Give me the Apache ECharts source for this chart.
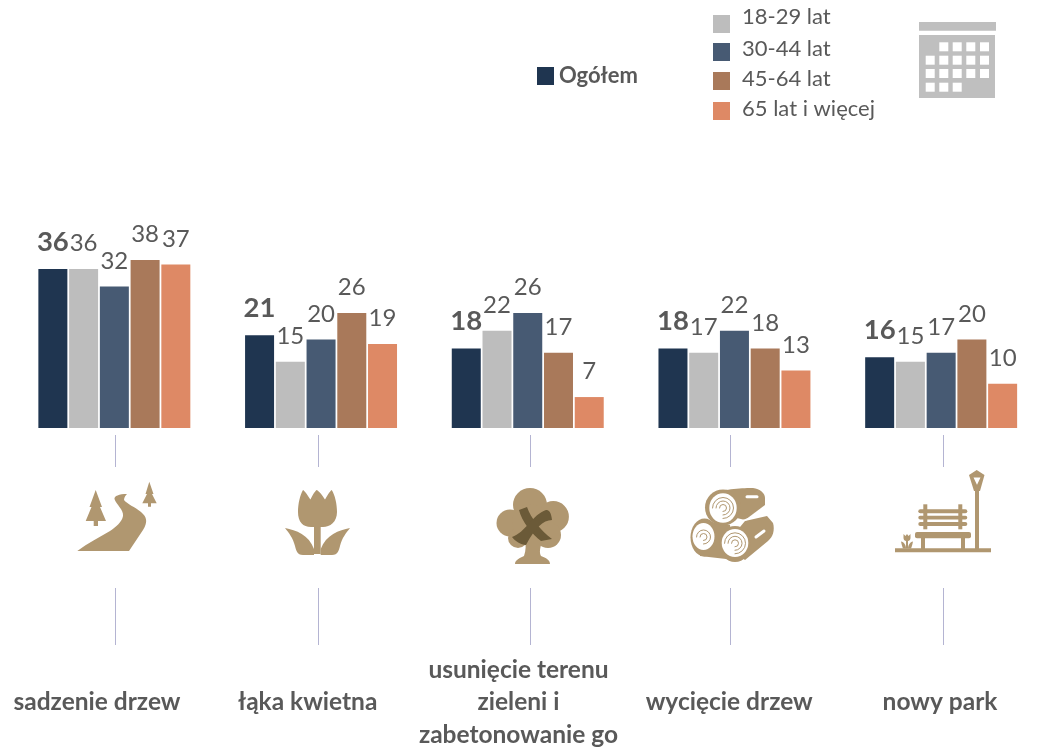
<!DOCTYPE html>
<html><head><meta charset="utf-8">
<script src="https://cdn.jsdelivr.net/npm/echarts@6/dist/echarts.min.js"></script>
<style>html,body{margin:0;padding:0;background:#fff}#c{width:1043px;height:747px}</style>
</head><body><div id="c"></div>
<script>
const categories = ['sadzenie drzew','łąka kwietna','usunięcie terenu\nzieleni i\nzabetonowanie go','wycięcie drzew','nowy park'];
const ogolem   = [36,21,18,18,16];
const age18_29 = [36,15,22,17,15];
const age30_44 = [32,20,26,22,17];
const age45_64 = [38,26,17,18,20];
const age65    = [37,19,7,13,10];
const seriesNames = ['Ogółem','18-29 lat','30-44 lat','45-64 lat','65 lat i więcej'];
const seriesData = [ogolem,age18_29,age30_44,age45_64,age65];
const colors = ['#1F3550','#BDBDBD','#475A73','#A9795A','#DE8965'];
const FONT='Lato', TXT='#595959', GOLD='#B09770';

const series = seriesNames.map((n,i)=>({
  name:n,type:'bar',data:seriesData[i],barWidth:29,barGap:'6%',
  itemStyle:{color:colors[i]},
  label:{show:true,position:'top',distance:14,color:TXT,fontFamily:FONT,
    fontSize:i===0?27.5:24,fontWeight:i===0?'bold':'normal',lineHeight:i===0?26:23}
}));

function legend(i,left,top,up,pad){
  const tok={color:TXT,fontFamily:FONT,fontSize:22,fontWeight:i===0?'bold':'normal',padding:[0,0,up,pad]};
  return {data:[seriesNames[i]],left,top,padding:0,icon:'rect',itemWidth:17,itemHeight:18,
    selectedMode:false,formatter:'{a|{name}}',textStyle:{rich:{a:tok}}};
}

const g=[];
const path=(d,fill)=>g.push({type:'path',shape:{pathData:d},style:{fill:fill}});
const circ=(cx,cy,r,fill)=>g.push({type:'circle',shape:{cx,cy,r},style:{fill}});
const ell=(cx,cy,rx,ry,fill)=>path(`M${cx-rx} ${cy} A${rx} ${ry} 0 1 1 ${cx+rx} ${cy} A${rx} ${ry} 0 1 1 ${cx-rx} ${cy} Z`,fill);
const rect=(x,y,w,h,fill,r)=>g.push({type:'rect',shape:{x,y,width:w,height:h,r:r||0},style:{fill}});
const stroke=(d,col,w)=>g.push({type:'path',shape:{pathData:d},style:{fill:'none',stroke:col,lineWidth:w,lineCap:'round'}});

// connector lines
[115.5,318.5,530.5,730.5,943.5].forEach(x=>{
  [[435,467],[588,645]].forEach(([a,b])=>g.push({type:'line',shape:{x1:x,y1:a,x2:x,y2:b},style:{stroke:'#B4B4D2',lineWidth:1}}));
});
// calendar
rect(919,22,77,8.7,'#BFBFBF');
rect(919,35,76,63,'#BFBFBF');
const calX=[925.7,939.3,952.7,966.3,980], calY=[42.3,55.7,69,82.7];
[[1,2,3,4],[0,1,2,3,4],[0,1,2,3,4],[0,1,2]].forEach((row,r)=>row.forEach(c=>rect(calX[c],calY[r],9,9,'#fff')));
// road + trees
path('M95.7 490 L102 507 L100 507 L106 521 L98 521 L98 526 L93.7 526 L93.7 521 L85.7 521 L91.5 507 L89.5 507 Z',GOLD);
path('M149.3 481.7 L153.5 494 L152 494 L156.7 503.3 L151 503.3 L151 506.7 L148 506.7 L148 503.3 L142.3 503.3 L147 494 L145.5 494 Z',GOLD);
path('M77.3 551 L129 551 L143 530 C148 522 147 517 141 512 C135 507 127 504 124 500 C124 497 126 495 127 494 C119 494 114 496 114.5 499 C116 504 124 510 123 516 C122 522 116 527 110 531 C100 537 88 543 77.3 551 Z',GOLD);
// tulip
path('M303 490 C305 491 308 496 310.5 499.5 C312 496 315 491 316.7 490 C319 491 323 496 325 499.5 C327 496 330 491 331.7 490 C335 495 337 504 337 512 C337 522 330 527 323 527 L311 527 C303 527 298 522 298 512 C298 504 300 495 303 490 Z',GOLD);
rect(314,526,6.7,28,GOLD);
path('M285 528 C296 530 309 535 314 549 L314 555 L303 555 C297 555 296 550 295 546 C293 538 289 533 285 528 Z',GOLD);
path('M350 528 C339 530 326 535 320.7 549 L320.7 555 L332 555 C338 555 339 550 340 546 C342 538 346 533 350 528 Z',GOLD);
// tree with X
circ(530,505,17,GOLD);circ(510,523,13.5,GOLD);circ(553.3,516.7,15.6,GOLD);circ(548,535,13,GOLD);circ(518,538,10,GOLD);circ(530,522,18,GOLD);
path('M525 538 L543 538 C540 548 539 552 541 556 C546 558 550 560 550 564 L515 564 C515 560 520 558 524 556 C526 550 526 545 525 538 Z',GOLD);
path('M519 510 L527 507 C531 518 540 530 552 539 L541 541 C532 534 522 522 519 510 Z','#6B5A38');
path('M546 510 C549 510 551 512 552 520 C543 520 535 528 526 545 C521 545 515 541 512 537 C525 533 533 514 546 510 Z','#6B5A38');
// logs
path('M716 493 C722 489 745 488 753 488 C760 489 765 493 765 498 L765 505 L745 520 L712 512 Z',GOLD);
path('M745 521 L767 516 L773 523 C775 530 773 537 768 541 L745 560 L725 545 Z',GOLD);
path('M700 520 L730 525 L735 560 L700 556 Z',GOLD);
circ(723,507.5,18,GOLD);ell(704.5,537.5,14,19,GOLD);ell(735,544,16,18,GOLD);
ell(723,508,13.7,14.7,'#fff');ell(703.5,536.5,11,13.5,'#fff');ell(735,543,13.3,14,'#fff');
stroke('M742 521 L765 513','#fff',1.6);
stroke('M747 496.7 L757 496.7','#fff',3);
stroke('M756 537 L764 531','#fff',3);
[[723,508,[3.5,7,10.5]],[703.5,537,[3.5,7]],[735,543.3,[3.5,7,10.5]]].forEach(([x,y,rs])=>rs.forEach(r=>
  stroke(`M${x-r} ${y} A${r} ${r} 0 1 1 ${x} ${y+r}`,GOLD,1)));
// bench + lamp
rect(895,548.3,96,4,GOLD);
rect(975,491,4,58,GOLD);
path('M976.7 470 L984.5 475 L980 491 L974 491 L969 475 Z M973.5 477.5 L978.5 488 L975.5 488 L980.5 477.5 Z',GOLD);
rect(915,532,56,6.3,GOLD,2);
rect(921,538,4,11,GOLD);rect(961,538,4,11,GOLD);
rect(918.3,509.3,49,4,GOLD,2);rect(918.3,515.7,49,3.8,GOLD,2);rect(918.3,522,49,4,GOLD,2);
rect(923.3,504.3,4,25,GOLD);rect(958.3,504.3,4,25,GOLD);
path('M903.5 534 L905.5 536 L907 534 L908.5 536 L910.5 534 L910.5 538 C910.5 540 909 541 908 541 L908 548.5 L906 548.5 L906 541 C905 541 903.5 540 903.5 538 Z',GOLD);
path('M901 541.5 C904 542 906 545 906 548.5 L903 548.5 C902 546 901.5 544 901 541.5 Z',GOLD);
path('M913 541.5 C910 542 908 545 908 548.5 L911 548.5 C912 546 912.5 544 913 541.5 Z',GOLD);

series.push({type:'custom',name:'decor',coordinateSystem:'none',silent:true,data:[[0]],
  renderItem:()=>({type:'group',children:g})});

const chart=echarts.init(document.getElementById('c'),null,{renderer:'canvas'});
chart.setOption({
  animation:false,backgroundColor:'#fff',
  legend:[legend(0,537,65,0,0),legend(1,713,6,14,7),legend(2,713,38,6,7),legend(3,713,68,4,7),legend(4,713,98,4,7)],
  grid:[
    {left:11,top:207,width:1033.5,height:221,outerBoundsMode:'none'},
    {left:-8.4,top:600,width:1053.75,height:102.5,outerBoundsMode:'none'}
  ],
  xAxis:[
    {type:'category',gridIndex:0,data:categories,axisLine:{show:false},axisTick:{show:false},axisLabel:{show:false}},
    {type:'category',gridIndex:1,data:categories,axisLine:{show:false},axisTick:{show:false},
      axisLabel:{show:true,interval:0,hideOverlap:false,margin:0,verticalAlign:'middle',color:TXT,fontFamily:FONT,fontWeight:'bold',fontSize:24.5,lineHeight:32.5}}
  ],
  yAxis:[
    {type:'value',gridIndex:0,min:0,max:50,show:false,splitLine:{show:false}},
    {type:'value',gridIndex:1,min:0,max:1,show:false,splitLine:{show:false}}
  ],
  series
});
</script></body></html>
